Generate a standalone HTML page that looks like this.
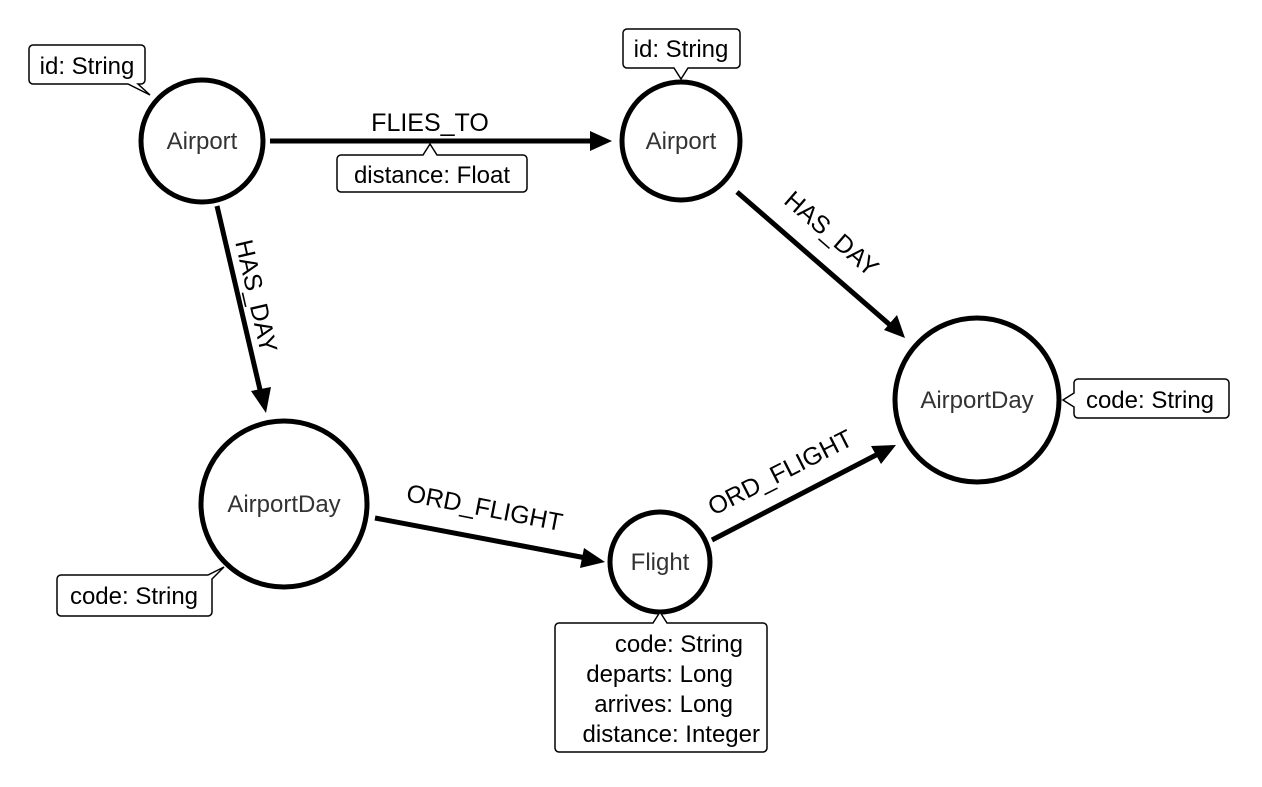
<!DOCTYPE html>
<html><head><meta charset="utf-8"><style>
html,body{margin:0;padding:0;background:#fff;}
svg{display:block;}
text{font-family:"Liberation Sans",sans-serif;}
.p{font-size:24px;fill:#000;}
.n{font-size:24px;fill:#333;}
.e{font-size:25px;fill:#000;}
</style></head><body>
<svg width="1262" height="787" viewBox="0 0 1262 787" xmlns="http://www.w3.org/2000/svg">
<g stroke="#000" stroke-width="5" fill="none">
<circle cx="202" cy="141" r="61"/>
<circle cx="681" cy="141" r="59"/>
<circle cx="977" cy="400" r="82"/>
<circle cx="284" cy="504" r="83"/>
<circle cx="660" cy="562" r="50"/>
<line x1="270" y1="141" x2="592" y2="141"/>
<line x1="217" y1="206" x2="261" y2="394"/>
<line x1="737" y1="192" x2="890" y2="325"/>
<line x1="375" y1="518" x2="586" y2="558"/>
<line x1="712" y1="540" x2="878" y2="454"/>
</g>
<g fill="#000">
<polygon points="612,141 590,131 590,151"/>
<polygon points="266,413 251,391 271,387"/>
<polygon points="905,338 884,330 897,315"/>
<polygon points="605,562 584,548 580,568"/>
<polygon points="896,445 871,446 881,464"/>
</g>
<g fill="#fff" stroke="#000" stroke-width="1.5">
<path d="M33,45 H141 a4,4 0 0 1 4,4 V80 a4,4 0 0 1 -4,4 H138 L150,95 L128,84 H33 a4,4 0 0 1 -4,-4 V49 a4,4 0 0 1 4,-4 Z"/>
<path d="M627,29 H736 a4,4 0 0 1 4,4 V64 a4,4 0 0 1 -4,4 H688 L681,79 L674,68 H627 a4,4 0 0 1 -4,-4 V33 a4,4 0 0 1 4,-4 Z"/>
<path d="M341,155 H423 L430,144 L437,155 H523 a4,4 0 0 1 4,4 V188 a4,4 0 0 1 -4,4 H341 a4,4 0 0 1 -4,-4 V159 a4,4 0 0 1 4,-4 Z"/>
<path d="M1078,379 H1225 a4,4 0 0 1 4,4 V414 a4,4 0 0 1 -4,4 H1078 a4,4 0 0 1 -4,-4 V407 L1063,400 L1074,393 V383 a4,4 0 0 1 4,-4 Z"/>
<path d="M61,575 H208 L224,567 L212,579 V612 a4,4 0 0 1 -4,4 H61 a4,4 0 0 1 -4,-4 V579 a4,4 0 0 1 4,-4 Z"/>
<path d="M559,623 H653 L660,612 L667,623 H763 a4,4 0 0 1 4,4 V748 a4,4 0 0 1 -4,4 H559 a4,4 0 0 1 -4,-4 V627 a4,4 0 0 1 4,-4 Z"/>
</g>
<text class="p" x="87" y="74" text-anchor="middle">id: String</text>
<text class="p" x="681" y="57" text-anchor="middle">id: String</text>
<text class="p" x="432" y="183" text-anchor="middle">distance: Float</text>
<text class="p" x="1150" y="408" text-anchor="middle">code: String</text>
<text class="p" x="134" y="604" text-anchor="middle">code: String</text>
<g class="p" text-anchor="end">
<text x="743" y="652">code: String</text>
<text x="733" y="682">departs: Long</text>
<text x="733" y="712">arrives: Long</text>
<text x="760" y="742">distance: Integer</text>
</g>
<text class="n" x="202" y="149" text-anchor="middle">Airport</text>
<text class="n" x="681" y="149" text-anchor="middle">Airport</text>
<text class="n" x="977" y="408" text-anchor="middle">AirportDay</text>
<text class="n" x="284" y="512" text-anchor="middle">AirportDay</text>
<text class="n" x="660" y="570" text-anchor="middle">Flight</text>
<text class="e" x="430" y="131" text-anchor="middle">FLIES_TO</text>
<text class="e" text-anchor="middle" transform="translate(248,298) rotate(77)">HAS_DAY</text>
<text class="e" text-anchor="middle" transform="translate(826,240) rotate(41)">HAS_DAY</text>
<text class="e" text-anchor="middle" transform="translate(483,516) rotate(11)">ORD_FLIGHT</text>
<text class="e" text-anchor="middle" transform="translate(784,480) rotate(-27)">ORD_FLIGHT</text>
</svg>
</body></html>
